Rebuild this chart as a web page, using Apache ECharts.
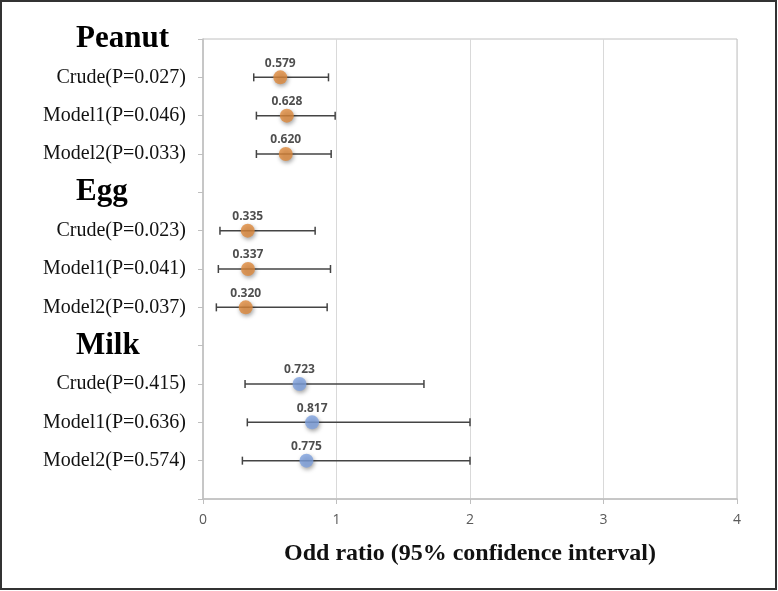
<!DOCTYPE html>
<html>
<head>
<meta charset="utf-8">
<script src="https://cdn.jsdelivr.net/npm/echarts@6/dist/echarts.min.js"></script>
<style>
html,body{margin:0;padding:0;background:#fff;}
#chart{width:778px;height:591px;}
</style>
</head>
<body>
<div id="chart"></div>
<script>
// ---- data ----
const categories = ['Peanut','Crude(P=0.027)','Model1(P=0.046)','Model2(P=0.033)',
  'Egg','Crude(P=0.023)','Model1(P=0.041)','Model2(P=0.037)',
  'Milk','Crude(P=0.415)','Model1(P=0.636)','Model2(P=0.574)',''];
const headers = ['Peanut','Egg','Milk'];
const oddRatio = [null,0.579,0.628,0.620,null,0.335,0.337,0.320,null,0.723,0.817,0.775,null];
const ciLower  = [null,0.38,0.40,0.40,null,0.127,0.115,0.10,null,0.315,0.332,0.295,null];
const ciUpper  = [null,0.94,0.99,0.96,null,0.84,0.955,0.93,null,1.655,2.0,2.0,null];
const groupOf  = [null,'Peanut','Peanut','Peanut',null,'Egg','Egg','Egg',null,'Milk','Milk','Milk',null];
const xTicks = [0,1,2,3,4];

const groupColor = {Peanut:'#DE8A3C', Egg:'#DE8A3C', Milk:'#7EA1DF'};

const pointData = [];
const barData = [];
categories.forEach((c,i)=>{
  if (oddRatio[i] != null) {
    pointData.push({value:[oddRatio[i], i], itemStyle:{color:groupColor[groupOf[i]]}});
    barData.push([ciLower[i], ciUpper[i], i]);
  }
});

const chart = echarts.init(document.getElementById('chart'));
chart.setOption({
  animation:false,
  backgroundColor:'#fff',
  graphic:[{type:'rect', shape:{x:1,y:1,width:775,height:588}, style:{fill:'none', stroke:'#333', lineWidth:2}, silent:true, z:100}],
  grid:{left:203, right:41, top:39, bottom:92, show:true, borderColor:'#c0c0c0', borderWidth:1},
  xAxis:{
    type:'value', min:xTicks[0], max:xTicks[xTicks.length-1], interval:1,
    axisLine:{show:true, lineStyle:{color:'#bfbfbf', width:1.5}},
    axisTick:{show:true, length:5, lineStyle:{color:'#bfbfbf'}},
    splitLine:{show:true, lineStyle:{color:'#d9d9d9', width:1}},
    axisLabel:{color:'#5a5a5a', fontSize:14, fontFamily:'Open Sans', margin:14},
    name:'Odd ratio (95% confidence interval)', nameLocation:'middle', nameGap:43,
    nameTextStyle:{fontFamily:'Liberation Serif', fontWeight:'bold', fontSize:24, color:'#111'}
  },
  yAxis:{
    type:'category', data:categories, inverse:true, boundaryGap:false,
    axisLine:{show:true, lineStyle:{color:'#bfbfbf', width:1.5}},
    axisTick:{show:true, length:5, inside:false, alignWithLabel:true, lineStyle:{color:'#bfbfbf'}},
    splitLine:{show:false},
    axisLabel:{
      interval:0, margin:17, color:'#111', fontFamily:'Liberation Serif', fontSize:20,
      formatter:(v)=> headers.includes(v) ? '{h|'+v+'}' : v,
      rich:{h:{fontFamily:'Liberation Serif', fontWeight:'bold', fontSize:31, color:'#000', width:110, align:'left'}}
    }
  },
  series:[
    {
      type:'custom',
      data:barData,
      renderItem:(params, api)=>{
        const lo = api.coord([api.value(0), api.value(2)]);
        const hi = api.coord([api.value(1), api.value(2)]);
        const cap = 4;
        const st = {stroke:'#444', lineWidth:1.5};
        return {type:'group', children:[
          {type:'line', shape:{x1:lo[0], y1:lo[1], x2:hi[0], y2:hi[1]}, style:st},
          {type:'line', shape:{x1:lo[0], y1:lo[1]-cap, x2:lo[0], y2:lo[1]+cap}, style:st},
          {type:'line', shape:{x1:hi[0], y1:hi[1]-cap, x2:hi[0], y2:hi[1]+cap}, style:st}
        ]};
      },
      z:2
    },
    {
      type:'scatter',
      data:pointData,
      symbolSize:14,
      itemStyle:{shadowBlur:4, shadowColor:'rgba(0,0,0,0.45)', shadowOffsetY:2, shadowOffsetX:1},
      label:{show:true, position:'top', distance:1, formatter:(p)=>p.value[0].toFixed(3),
        fontFamily:'Open Sans', fontWeight:'bold', fontSize:12, color:'#222'},
      z:3
    }
  ]
});
</script>
</body>
</html>
